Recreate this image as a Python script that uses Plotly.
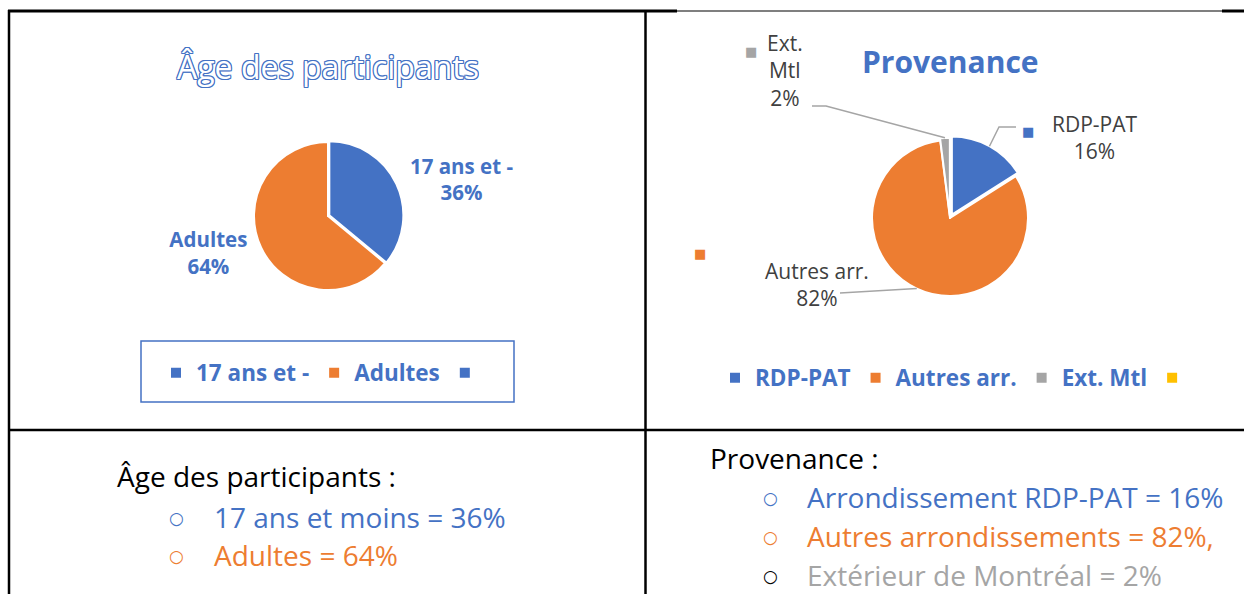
import math
import plotly.graph_objects as go

W, H = 1244, 594

def px(x):
    return x / W

def py(y):
    return 1 - y / H

BLUE = "#4472C4"
ORANGE = "#ED7D31"
GRAY = "#A5A5A5"
YELLOW = "#FFC000"
DARK = "#404040"
FONT = "Open Sans"

# ---------------- data ----------------
age_labels = ["17 ans et -", "Adultes", " "]
age_values = [36, 64, 0]
age_colors = [BLUE, ORANGE, BLUE]

prov_labels = ["RDP-PAT", "Autres arr.", "Ext. Mtl", "  "]
prov_values = [16, 82, 2, 0]
prov_colors = [BLUE, ORANGE, GRAY, YELLOW]

age_title = "Âge des participants"
prov_title = "Provenance"

age_summary_title = "Âge des participants :"
age_summary = ["17 ans et moins = 36%", "Adultes = 64%"]
age_summary_colors = [BLUE, ORANGE]
age_bullet_colors = [BLUE, ORANGE]

prov_summary_title = "Provenance :"
prov_summary = ["Arrondissement RDP-PAT = 16%", "Autres arrondissements = 82%,", "Extérieur de Montréal = 2%"]
prov_summary_colors = [BLUE, ORANGE, GRAY]
prov_bullet_colors = [BLUE, ORANGE, "#000000"]

# ---------------- layout geometry (pixels) ----------------
P1 = dict(cx=328, cy=216, r=74, pull=[0.02, 0, 0])
P2 = dict(cx=950, cy=218, r=78, pull=[0.05, 0, 0.03, 0])


def domain(p):
    half = p["r"] * (1 + max(p["pull"]))
    return dict(x=[px(p["cx"] - half), px(p["cx"] + half)],
                y=[py(p["cy"] + half), py(p["cy"] - half)])


fig = go.Figure()

fig.add_trace(go.Pie(
    labels=age_labels, values=age_values, sort=False, direction="clockwise", rotation=0,
    marker=dict(colors=age_colors, line=dict(color="white", width=2)),
    pull=P1["pull"], domain=domain(P1),
    texttemplate=["%{label}<br>%{percent}", "%{label}<br>%{percent}", ""],
    textposition="outside",
    outsidetextfont=dict(family=FONT, size=20.5, color=BLUE, weight="bold"),
    hoverinfo="label+percent", legend="legend",
))

fig.add_trace(go.Pie(
    labels=prov_labels, values=prov_values, sort=False, direction="clockwise", rotation=0,
    marker=dict(colors=prov_colors, line=dict(color="white", width=2)),
    pull=P2["pull"], domain=domain(P2),
    textinfo="none", hoverinfo="label+percent", legend="legend2",
))

shapes = []
annotations = []

# table lines
def line(x0, y0, x1, y1, w=2, c="black"):
    shapes.append(dict(type="line", xref="paper", yref="paper",
                       x0=px(x0), y0=py(y0), x1=px(x1), y1=py(y1),
                       line=dict(color=c, width=w)))

line(8, 11, 677, 11, 3)
line(677, 11, 1222, 11, 1.2)
line(1222, 11, 1244, 11, 3)
line(9, 10, 9, 594, 2.5)
line(645.5, 10, 645.5, 594, 2.5)
line(8, 430, 1244, 430, 2.5)

# legend box for the first chart
shapes.append(dict(type="rect", xref="paper", yref="paper",
                   x0=px(141), x1=px(514), y0=py(402), y1=py(341),
                   line=dict(color=BLUE, width=1.5)))

# titles
outline = ", ".join(f"{dx}px {dy}px 0 {BLUE}" for dx in (-1, 0, 1) for dy in (-1, 0, 1) if dx or dy)
annotations.append(dict(text=age_title, x=px(328), y=py(66), xref="paper", yref="paper",
                        showarrow=False, xanchor="center", yanchor="middle",
                        font=dict(family=FONT, size=32, color="white", shadow=outline)))
annotations.append(dict(text=prov_title, x=px(950), y=py(62), xref="paper", yref="paper",
                        showarrow=False, xanchor="center", yanchor="middle",
                        font=dict(family=FONT, size=30, color=BLUE, weight="bold")))

# data labels for the second chart, leader lines end on slice mid-angles
def tip(values, i, p):
    tot = sum(values)
    a = 2 * math.pi * (sum(values[:i]) + values[i] / 2) / tot
    rr = p["r"] * (1 + p["pull"][i])
    return p["cx"] + rr * math.sin(a), p["cy"] - rr * math.cos(a)

def pct(values, i):
    return f"{round(100 * values[i] / sum(values))}%"

lab_font = dict(family=FONT, size=21, color=DARK)

# RDP-PAT
annotations.append(dict(text=f"{prov_labels[0]}<br>{pct(prov_values, 0)}", x=px(1095), y=py(137),
                        xref="paper", yref="paper", showarrow=False, xanchor="center", yanchor="middle",
                        font=lab_font))
annotations.append(dict(text="■", x=px(1036), y=py(122), xref="paper", yref="paper", showarrow=False,
                        font=dict(family="DejaVu Sans", size=13, color=prov_colors[0])))
tx, ty = tip(prov_values, 0, P2)
shapes.append(dict(type="path", xref="paper", yref="paper",
                   path=f"M{px(1016)},{py(127)} L{px(999)},{py(127)} L{px(tx)},{py(ty)}",
                   line=dict(color=GRAY, width=1.5)))

# Autres arr.
annotations.append(dict(text=f"{prov_labels[1]}<br>{pct(prov_values, 1)}", x=px(817), y=py(284),
                        xref="paper", yref="paper", showarrow=False, xanchor="center", yanchor="middle",
                        font=lab_font))
annotations.append(dict(text="■", x=px(700), y=py(254), xref="paper", yref="paper", showarrow=False,
                        font=dict(family="DejaVu Sans", size=13, color=prov_colors[1])))
tx, ty = tip(prov_values, 1, P2)
shapes.append(dict(type="path", xref="paper", yref="paper",
                   path=f"M{px(840)},{py(293)} L{px(tx)},{py(ty)}",
                   line=dict(color=GRAY, width=1.5)))

# Ext. Mtl
annotations.append(dict(text=f"Ext.<br>Mtl<br>{pct(prov_values, 2)}", x=px(785), y=py(71),
                        xref="paper", yref="paper", showarrow=False, xanchor="center", yanchor="middle",
                        font=lab_font))
annotations.append(dict(text="■", x=px(751), y=py(42), xref="paper", yref="paper", showarrow=False,
                        font=dict(family="DejaVu Sans", size=13, color=prov_colors[2])))
tx, ty = tip(prov_values, 2, P2)
shapes.append(dict(type="path", xref="paper", yref="paper",
                   path=f"M{px(812)},{py(106)} L{px(826)},{py(106)} L{px(tx)},{py(ty)}",
                   line=dict(color=GRAY, width=1.5)))

# bottom summaries
def text(t, x, y, color, size=28, family=FONT):
    annotations.append(dict(text=t, x=px(x), y=py(y), xref="paper", yref="paper", showarrow=False,
                            xanchor="left", yanchor="middle",
                            font=dict(family=family, size=size, color=color)))

text(age_summary_title, 115, 476, "#000000")
for k, (t, c, bc) in enumerate(zip(age_summary, age_summary_colors, age_bullet_colors)):
    yy = 517 + 38 * k
    text("○", 167, yy + 1, bc, size=17, family="DejaVu Sans")
    text(t, 212, yy, c)

text(prov_summary_title, 708, 458, "#000000")
for k, (t, c, bc) in enumerate(zip(prov_summary, prov_summary_colors, prov_bullet_colors)):
    yy = 497 + 39 * k
    text("○", 761, yy + 1, bc, size=17, family="DejaVu Sans")
    text(t, 805, yy, c)

legend_font = dict(family=FONT, size=22.5, color=BLUE, weight="bold")

fig.update_layout(
    width=W, height=H, margin=dict(l=0, r=0, t=0, b=0),
    paper_bgcolor="white", plot_bgcolor="white",
    showlegend=True,
    legend=dict(orientation="h", x=px(156), y=py(373), xanchor="left", yanchor="middle",
                font=legend_font, bgcolor="rgba(0,0,0,0)", itemclick=False, itemdoubleclick=False),
    legend2=dict(orientation="h", x=px(715), y=py(378), xanchor="left", yanchor="middle",
                 font=legend_font, bgcolor="rgba(0,0,0,0)", itemclick=False, itemdoubleclick=False),
    shapes=shapes, annotations=annotations,
)

fig.write_html("out.html", config={"displayModeBar": False},
               post_script="document.body.style.margin='0';document.body.style.overflow='hidden';")
